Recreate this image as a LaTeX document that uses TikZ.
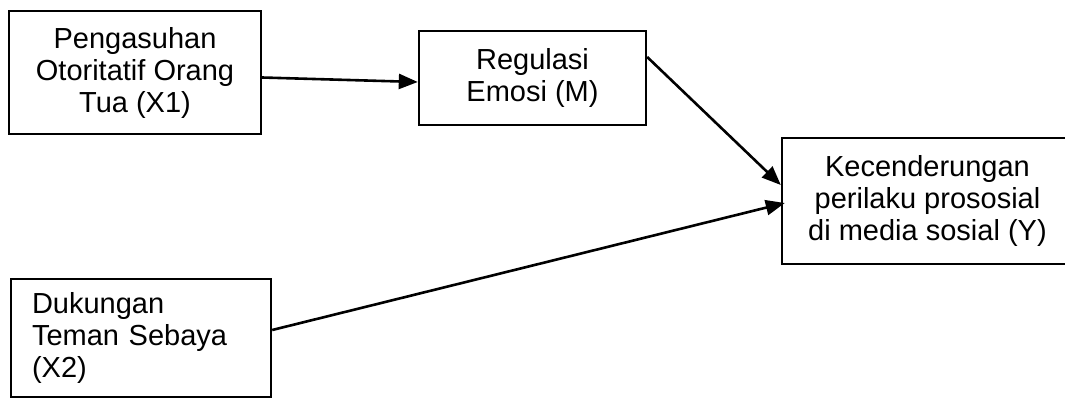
\documentclass[tikz,border=0pt]{standalone}
\usepackage{fontspec}
\setmainfont{Liberation Sans}
\usepackage{tikz}
\usetikzlibrary{arrows.meta, calc}

\tikzset{
    var/.style={draw, line width=2.4pt, align=center, inner sep=0pt, font=\fontsize{29}{32}\selectfont},
    link/.style={line width=2.6pt, -{Triangle[length=19pt, width=15pt]}}
}

\begin{document}
\begin{tikzpicture}[x=1pt, y=-1pt]
        \useasboundingbox (0,0) rectangle (1065,399);

        % Nodes
        \node[var, minimum width=252pt, minimum height=123pt] (x1) at (135, 72.5) {Pengasuhan\\Otoritatif Orang\\Tua (X1)};
        \node[var, minimum width=227pt, minimum height=94pt] (m) at (532.5, 78) {Regulasi\\Emosi (M)};
        \node[var, minimum width=291pt, minimum height=126pt] (y) at (927.5, 201) {Kecenderungan\\perilaku prososial\\di media sosial (Y)};
        \node[var, align=left, text width=218pt, inner xsep=21pt, minimum height=118pt] (x2) at (141, 338) {Dukungan\\Teman Sebaya\\(X2)};

        % Lines
        \draw[link] ($(x1.east)+(0,5)$) -- ($(m.west)+(0,4)$);
        \draw[link] ($(m.east)+(0,-21)$) -- ($(y.west)+(0,-16)$);
        \draw[link] ($(x2.east)+(0,-8)$) -- ($(y.west)+(4,2)$);
    \end{tikzpicture}
\end{document}
